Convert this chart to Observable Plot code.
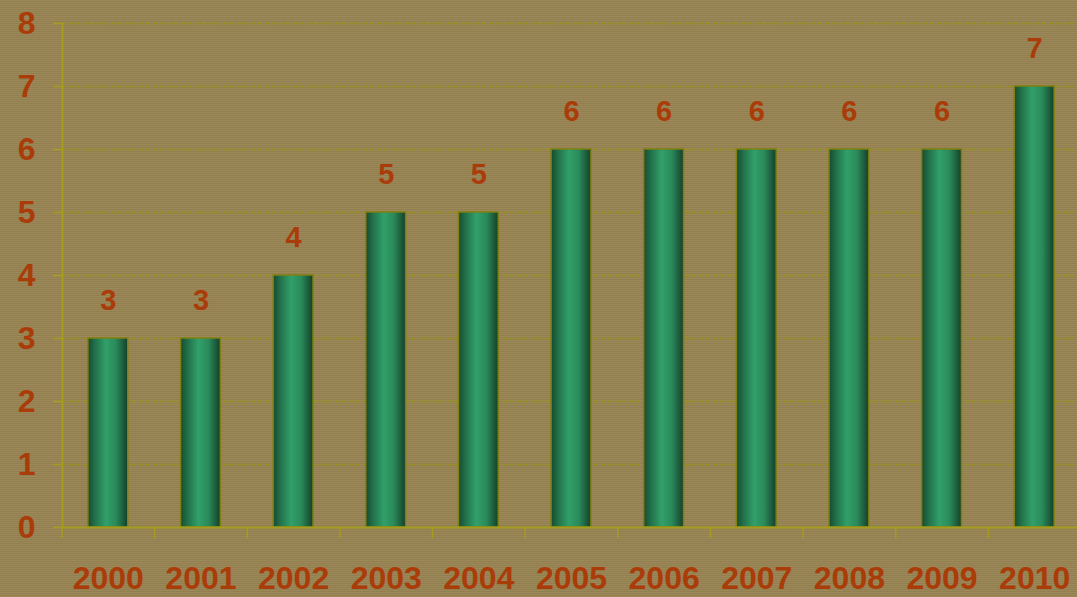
<!DOCTYPE html>
<html>
<head>
<meta charset="utf-8">
<script src="https://cdn.jsdelivr.net/npm/d3@7"></script>
<script src="https://cdn.jsdelivr.net/npm/@observablehq/plot@0.6"></script>
<style>
  html, body { margin: 0; padding: 0; }
  body {
    width: 1077px; height: 597px; overflow: hidden;
    background: repeating-linear-gradient(to bottom, #9c8858 0px, #9c8858 1px, #927f50 1px, #927f50 2px);
  }
  svg { display: block; background: transparent; }
</style>
</head>
<body>
<div id="chart"></div>
<script>
const years = ["2000","2001","2002","2003","2004","2005","2006","2007","2008","2009","2010"];
const values = [3, 3, 4, 5, 5, 6, 6, 6, 6, 6, 7];
const yTicks = [0, 1, 2, 3, 4, 5, 6, 7, 8];
const gridTicks = [1, 2, 3, 4, 5, 6, 7, 8];

const data = years.map((y, i) => ({year: y, value: values[i]}));

const textColor = "#aa3c0a";
const axisColor = "#a39c1c";
const gridColor = "#969218";
const font = "'Liberation Sans', Arial, sans-serif";

const W = 1077, H = 597;
const xRange = [61.5, 1080.5];
const halfStep = (xRange[1] - xRange[0]) / years.length / 2;

function defs() {
  const ns = "http://www.w3.org/2000/svg";
  const d = document.createElementNS(ns, "defs");
  d.innerHTML = `
    <linearGradient id="barGrad" x1="0" y1="0" x2="1" y2="0">
      <stop offset="0" stop-color="#174a30"/>
      <stop offset="0.18" stop-color="#22714a"/>
      <stop offset="0.45" stop-color="#31a06a"/>
      <stop offset="0.7" stop-color="#2a8a5a"/>
      <stop offset="1" stop-color="#153f2a"/>
    </linearGradient>`;
  return d;
}

const chart = Plot.plot({
  width: W,
  height: H,
  marginLeft: 62,
  marginRight: 0,
  marginTop: 23,
  marginBottom: 70,
  style: {fontFamily: font, fontWeight: "bold", background: "transparent", overflow: "visible"},
  x: {domain: years, range: xRange, paddingInner: 0.57, paddingOuter: 0.285, round: false, axis: null},
  y: {domain: [0, 8], axis: null},
  marks: [
    defs,
    Plot.ruleY(gridTicks, {stroke: gridColor, strokeWidth: 1.6, strokeDasharray: "4,3"}),
    Plot.barY(data, {x: "year", y: "value", fill: "url(#barGrad)", stroke: "#808010", strokeWidth: 1.5}),
    Plot.ruleY([0], {stroke: axisColor, strokeWidth: 2}),
    Plot.frame({anchor: "left", stroke: axisColor, strokeWidth: 2}),
    Plot.ruleX(years, {x: d => d, y1: 0, y2: -0.18, dx: -halfStep, stroke: axisColor, strokeWidth: 1.6}),
    Plot.axisY(yTicks, {anchor: "left", label: null, tickFormat: d => String(d), tickSize: 9, tickPadding: 18, stroke: axisColor, fill: textColor, fontSize: 32, fontWeight: "bold", strokeWidth: 1.6}),
    Plot.text(data, {x: "year", y: "value", text: d => String(d.value), dy: -38, fill: textColor, fontSize: 29, fontWeight: "bold"}),
    Plot.text(years, {x: d => d, y: 0, text: d => d, dy: 51, fill: textColor, fontSize: 32, fontWeight: "bold"})
  ]
});

document.getElementById("chart").appendChild(chart);
</script>
</body>
</html>
